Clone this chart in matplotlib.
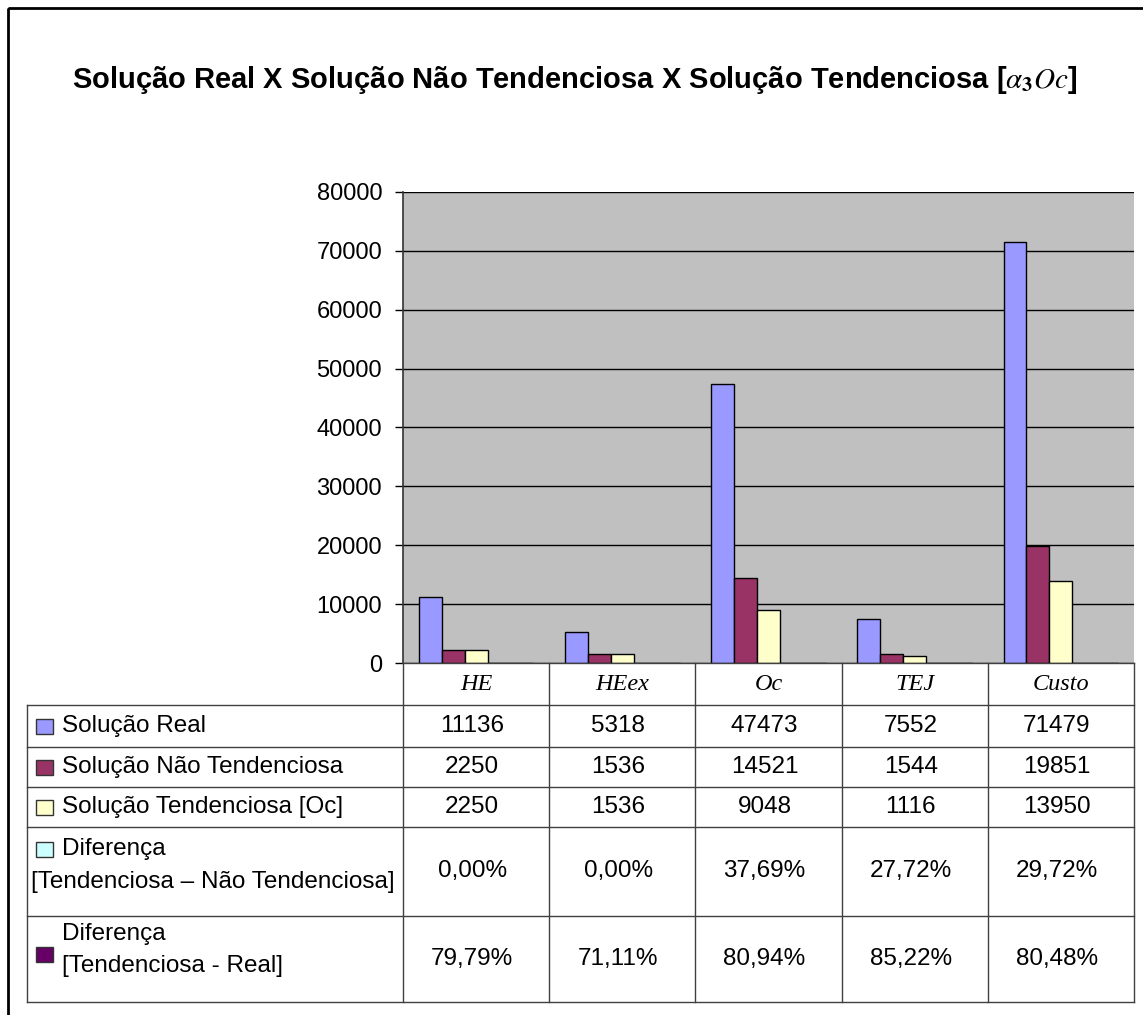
import numpy as np
import matplotlib
matplotlib.use('Agg')
import matplotlib.pyplot as plt
from matplotlib.patches import Rectangle

plt.rcParams['font.family'] = ['Liberation Sans', 'DejaVu Sans']
plt.rcParams['mathtext.fontset'] = 'stix'

# dados
categorias = ['HE', 'HEex', 'Oc', 'TEJ', 'Custo']
real = [11136, 5318, 47473, 7552, 71479]
nao_tend = [2250, 1536, 14521, 1544, 19851]
tend = [2250, 1536, 9048, 1116, 13950]
dif_tend_nao = [0.0, 0.0, 0.3769, 0.2772, 0.2972]
dif_tend_real = [0.7979, 0.7111, 0.8094, 0.8522, 0.8048]

series = [real, nao_tend, tend, dif_tend_nao, dif_tend_real]
cores = ['#9999FF', '#993366', '#FFFFCC', '#CCFFFF', '#660066']
nomes = [['Solução Real'], ['Solução Não Tendenciosa'], ['Solução Tendenciosa [Oc]'],
         ['Diferença', '[Tendenciosa – Não Tendenciosa]'],
         ['Diferença', '[Tendenciosa - Real]']]


def fmt_pct(v):
    return f'{v * 100:.2f}%'.replace('.', ',')


linhas_tab = [[str(v) for v in real], [str(v) for v in nao_tend], [str(v) for v in tend],
              [fmt_pct(v) for v in dif_tend_nao], [fmt_pct(v) for v in dif_tend_real]]

W, H = 1143, 1015
fig = plt.figure(figsize=(W / 100, H / 100), dpi=100)

# area do grafico (pixels)
x0, x1, ytop, ybot = 403, 1134, 192, 663
ax = fig.add_axes([x0 / W, 1 - ybot / H, (x1 - x0) / W, (ybot - ytop) / H])
ax.set_facecolor('#C0C0C0')

n = len(series)
larg = 0.157
ini = (1 - n * larg) / 2
x = np.arange(len(categorias))
for i, (vals, cor) in enumerate(zip(series, cores)):
    ax.bar(x + ini + i * larg, vals, width=larg, align='edge', color=cor,
           edgecolor='black', linewidth=1.0, zorder=3)

ax.set_xlim(0, len(categorias))
ax.set_ylim(0, 80000)
ax.set_yticks(np.arange(0, 80001, 10000))
ax.set_yticklabels([str(v) for v in range(0, 80001, 10000)], fontsize=17)
ax.yaxis.grid(True, color='black', linewidth=1.0, zorder=1)
ax.set_xticks([])
ax.tick_params(axis='y', direction='out', length=6, width=1, pad=9)
for s in ['top', 'right', 'bottom']:
    ax.spines[s].set_visible(False)
ax.spines['left'].set_color('#333333')
ax.spines['left'].set_linewidth(1.2)

# tabela de dados desenhada sobre a figura inteira
tab = fig.add_axes([0, 0, 1, 1], zorder=5)
tab.set_xlim(0, W)
tab.set_ylim(H, 0)
tab.axis('off')
tab.patch.set_alpha(0)

# moldura externa
tab.add_patch(Rectangle((8, 8), W + 20, H + 20, fill=False, edgecolor='black', linewidth=2))

colx = np.linspace(x0, x1, len(categorias) + 1)
lab_left = 27
rows_y = [663, 705, 747, 787, 827, 916, 1002]
lc = '#404040'
fs = 17.5

# cabecalho das categorias
for xc in colx:
    tab.plot([xc, xc], [rows_y[0], rows_y[-1]], color=lc, lw=1)
tab.plot([x0, x1], [rows_y[0], rows_y[0]], color=lc, lw=1)
for j, c in enumerate(categorias):
    tab.text((colx[j] + colx[j + 1]) / 2, (rows_y[0] + rows_y[1]) / 2 + 1, c,
             family='Liberation Serif', style='italic', fontsize=17.5,
             ha='center', va='center')

tab.plot([lab_left, lab_left], [rows_y[1], rows_y[-1]], color=lc, lw=1)
for yy in rows_y[1:]:
    tab.plot([lab_left, x1], [yy, yy], color=lc, lw=1)

for r in range(len(series)):
    ya, yb = rows_y[r + 1], rows_y[r + 2]
    ym = (ya + yb) / 2
    for j in range(len(categorias)):
        tab.text((colx[j] + colx[j + 1]) / 2 - 4, ym, linhas_tab[r][j], fontsize=fs,
                 ha='center', va='center')
    nome = nomes[r]
    if r < 3:
        tab.add_patch(Rectangle((36, ym - 7), 17, 15, facecolor=cores[r], edgecolor='#333333', lw=1))
        tab.text(62, ym, nome[0], fontsize=fs, ha='left', va='center')
    elif r == 3:
        tab.add_patch(Rectangle((36, 842), 17, 15, facecolor=cores[r], edgecolor='#333333', lw=1))
        tab.text(62, 849, nome[0], fontsize=fs, ha='left', va='center')
        tab.text(31, 882, nome[1], fontsize=fs, ha='left', va='center')
    else:
        tab.add_patch(Rectangle((36, 947), 17, 15, facecolor=cores[r], edgecolor='#333333', lw=1))
        tab.text(62, 934, nome[0], fontsize=fs, ha='left', va='center')
        tab.text(62, 966, nome[1], fontsize=fs, ha='left', va='center')

tab.text(575, 80, r'Solução Real X Solução Não Tendenciosa X Solução Tendenciosa [$\alpha_{\mathbf{3}}\mathit{Oc}$]',
         fontsize=21, fontweight='bold', ha='center', va='center')

fig.savefig('out.png', dpi=100)
